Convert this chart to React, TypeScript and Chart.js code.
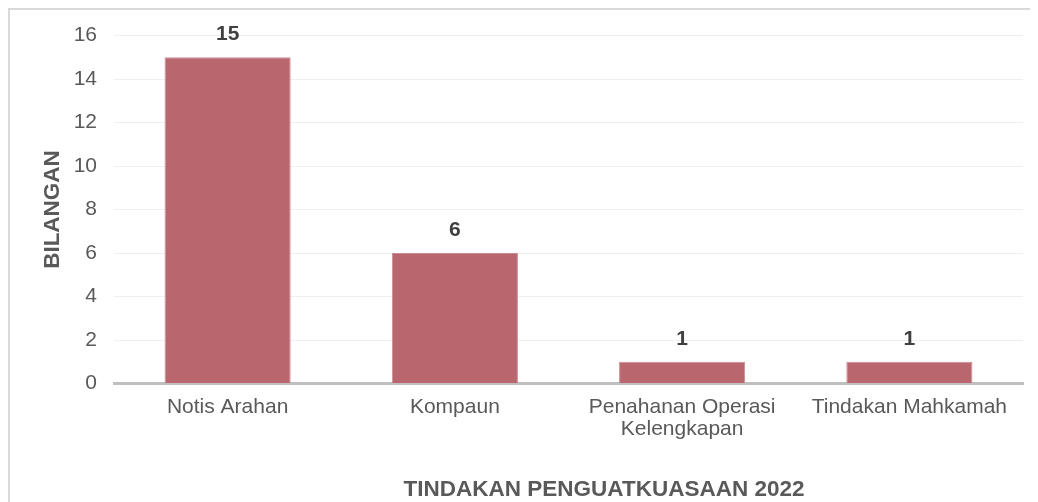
import React, { useEffect, useRef } from "react";
import { Chart, registerables } from "chart.js";

Chart.register(...registerables);

const categories: (string | string[])[] = [
  "Notis Arahan",
  "Kompaun",
  ["Penahanan Operasi", "Kelengkapan"],
  "Tindakan Mahkamah",
];
const values: number[] = [15, 6, 1, 1];
const yTicks: number[] = [0, 2, 4, 6, 8, 10, 12, 14, 16];
const xTitle = "TINDAKAN PENGUATKUASAAN 2022";
const yTitle = "BILANGAN";

const FONT = "Arial, 'Liberation Sans', sans-serif";

const valueLabels = {
  id: "valueLabels",
  afterDatasetsDraw(chart: any) {
    const ctx = chart.ctx;
    const meta = chart.getDatasetMeta(0);
    ctx.save();
    ctx.font = `bold 21px ${FONT}`;
    ctx.fillStyle = "#404040";
    ctx.textAlign = "center";
    ctx.textBaseline = "middle";
    meta.data.forEach((bar: any, i: number) => {
      ctx.fillText(String(values[i]), bar.x, bar.y - 23);
    });
    // x axis title (offset to the right, as in the source)
    ctx.font = `bold 22.5px ${FONT}`;
    ctx.fillStyle = "#595959";
    ctx.fillText(xTitle, 594, 480);
    ctx.restore();
  },
};

export default function App() {
  const ref = useRef<HTMLCanvasElement>(null);
  useEffect(() => {
    document.documentElement.style.overflow = "hidden";
    document.body.style.overflow = "hidden";
    if (!ref.current) return;
    const chart = new Chart(ref.current, {
      type: "bar",
      data: {
        labels: categories,
        datasets: [
          {
            data: values,
            backgroundColor: "#ba666e",
            borderColor: "#c98a90",
            borderWidth: 1,
            categoryPercentage: 1,
            barPercentage: 0.555,
          },
        ],
      },
      options: {
        animation: false,
        responsive: false,
        maintainAspectRatio: false,
        layout: { padding: { top: 25.5, right: 15, left: 0, bottom: 0 } },
        plugins: {
          legend: { display: false },
          tooltip: { enabled: false },
        },
        scales: {
          x: {
            afterFit: (axis: any) => {
              axis.height = 118.5;
              axis.paddingLeft = 0;
              axis.paddingRight = 0;
            },
            grid: { display: false, drawTicks: false },
            border: { display: true, color: "#bfbfbf", width: 3 },
            ticks: {
              color: "#595959",
              font: { family: FONT, size: 21, lineHeight: 1.05 },
              padding: 13,
              maxRotation: 0,
              autoSkip: false,
            },
            title: { display: false, text: xTitle },
          },
          y: {
            min: 0,
            max: 16,
            afterBuildTicks: (axis: any) => {
              axis.ticks = yTicks.map((v) => ({ value: v }));
            },
            afterFit: (axis: any) => {
              axis.width = 104;
              axis.paddingTop = 0;
              axis.paddingBottom = 0;
            },
            grid: {
              color: (c: any) => (c.tick && c.tick.value === 0 ? "rgba(0,0,0,0)" : "#efefef"),
              lineWidth: 1,
              drawTicks: false,
            },
            border: { display: false },
            ticks: {
              color: "#595959",
              font: { family: FONT, size: 21 },
              padding: 17,
            },
            title: {
              display: true,
              text: yTitle,
              color: "#595959",
              font: { family: FONT, size: 22.5, weight: "bold", lineHeight: 1 },
              padding: { top: 32, bottom: 10 },
            },
          },
        },
      },
      plugins: [valueLabels],
    });
    return () => chart.destroy();
  }, []);

  return (
    <div
      style={{
        width: 1028,
        height: 492,
        borderTop: "2px solid #d9d9d9",
        borderLeft: "2px solid #d9d9d9",
        background: "#fff",
        overflow: "hidden",
      }}
    >
      <canvas ref={ref} width={1028} height={492} style={{ display: "block" }} />
    </div>
  );
}
